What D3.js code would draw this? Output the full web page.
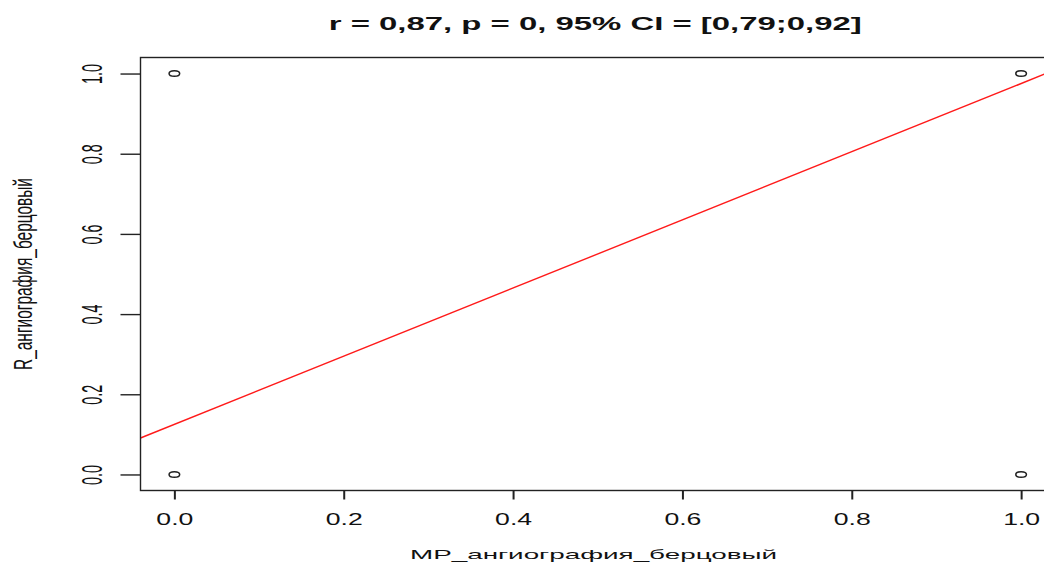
<!DOCTYPE html>
<html>
<head>
<meta charset="utf-8">
<script src="https://cdn.jsdelivr.net/npm/d3@7"></script>
<style>
  html, body { margin: 0; padding: 0; background: #fff; }
  svg { display: block; }
  text { font-family: "Liberation Sans", Arial, sans-serif; fill: #111; }
</style>
</head>
<body>
<svg id="chart" width="1044" height="562"></svg>
<script>
// Observed pairs (binary vessel assessment, MR vs. angiography)
const xValues = [0, 0, 1, 1];
const yValues = [0, 1, 0, 1];

// Least-squares fit line
const fitIntercept = 0.125;
const fitSlope = 0.85;

// Axis ticks
const xTicks = [0, 0.2, 0.4, 0.6, 0.8, 1.0];
const yTicks = [0, 0.2, 0.4, 0.6, 0.8, 1.0];

const titleText = "r = 0,87, p = 0, 95% CI = [0,79;0,92]";
const xLabel = "МР_ангиография_берцовый";
const yLabel = "R_ангиография_берцовый";

const svg = d3.select("#chart");
const W = 1044, H = 562;

// R-style 4% padding around the data range
const x = d3.scaleLinear().domain([-0.04, 1.04]).range([140.5, 1055]);
const y = d3.scaleLinear().domain([-0.04, 1.04]).range([490.5, 57.5]);

const ink = "#222";

// clip region = plotting region
svg.append("clipPath").attr("id", "plotClip")
  .append("rect")
  .attr("x", x(-0.04)).attr("y", y(1.04))
  .attr("width", x(1.04) - x(-0.04))
  .attr("height", y(-0.04) - y(1.04));

// regression line
const plot = svg.append("g").attr("clip-path", "url(#plotClip)");
const lineX = [-0.04, 1.04];
plot.append("path")
  .datum(lineX.map(v => [v, fitIntercept + fitSlope * v]))
  .attr("d", d3.line().x(d => x(d[0])).y(d => y(d[1])))
  .attr("fill", "none")
  .attr("stroke", "#ff1a1a")
  .attr("stroke-width", 1.4);

// points (open circles)
plot.selectAll("ellipse.pt")
  .data(xValues.map((v, i) => [v, yValues[i]]))
  .join("ellipse")
  .attr("class", "pt")
  .attr("cx", d => x(d[0]))
  .attr("cy", d => y(d[1]))
  .attr("rx", 5.3)
  .attr("ry", 2.8)
  .attr("fill", "none")
  .attr("stroke", ink)
  .attr("stroke-width", 1.5);

// box around plotting region
svg.append("rect")
  .attr("x", x(-0.04)).attr("y", y(1.04))
  .attr("width", x(1.04) - x(-0.04))
  .attr("height", y(-0.04) - y(1.04))
  .attr("fill", "none")
  .attr("stroke", ink)
  .attr("stroke-width", 1.4);

// x axis
const xAxis = d3.axisBottom(x).tickValues(xTicks).tickSize(9).tickFormat(d3.format(".1f"));
const gx = svg.append("g").attr("transform", `translate(0,${y(-0.04)})`).call(xAxis);
gx.select(".domain").remove();
gx.selectAll(".tick line").attr("stroke", ink).attr("stroke-width", 2);
gx.selectAll(".tick text")
  .attr("y", 34)
  .attr("dy", 0)
  .attr("fill", "#111")
  .style("font-size", "16.5px")
  .style("font-family", "'Liberation Sans', Arial, sans-serif")
  .attr("textLength", 37)
  .attr("lengthAdjust", "spacingAndGlyphs");

// y axis
const yAxis = d3.axisLeft(y).tickValues(yTicks).tickSize(20).tickFormat(d3.format(".1f"));
const gy = svg.append("g").attr("transform", `translate(${x(-0.04)},0)`).call(yAxis);
gy.select(".domain").remove();
gy.selectAll(".tick line").attr("stroke", ink).attr("stroke-width", 1.4);
gy.selectAll(".tick text").remove();
gy.selectAll(".tick").append("text")
  .attr("transform", "translate(-39,0) scale(2.25,1) rotate(-90)")
  .attr("text-anchor", "middle")
  .attr("fill", "#111")
  .style("font-size", "13px")
  .attr("textLength", 20)
  .attr("lengthAdjust", "spacingAndGlyphs")
  .text(d => d3.format(".1f")(d));

// title
svg.append("text")
  .attr("x", (x(-0.04) + x(1.04)) / 2 - 2.5)
  .attr("y", 30)
  .attr("text-anchor", "middle")
  .style("font-size", "18px")
  .style("font-weight", "bold")
  .attr("textLength", 533)
  .attr("lengthAdjust", "spacingAndGlyphs")
  .text(titleText);

// x label
svg.append("text")
  .attr("x", 593.5)
  .attr("y", 558.5)
  .attr("text-anchor", "middle")
  .style("font-size", "13.5px")
  .attr("textLength", 367)
  .attr("lengthAdjust", "spacingAndGlyphs")
  .text(xLabel);

// y label
svg.append("text")
  .attr("transform", `translate(32,274) scale(2.05,1) rotate(-90)`)
  .attr("text-anchor", "middle")
  .style("font-size", "13px")
  .attr("textLength", 192)
  .attr("lengthAdjust", "spacingAndGlyphs")
  .text(yLabel);
</script>
</body>
</html>
